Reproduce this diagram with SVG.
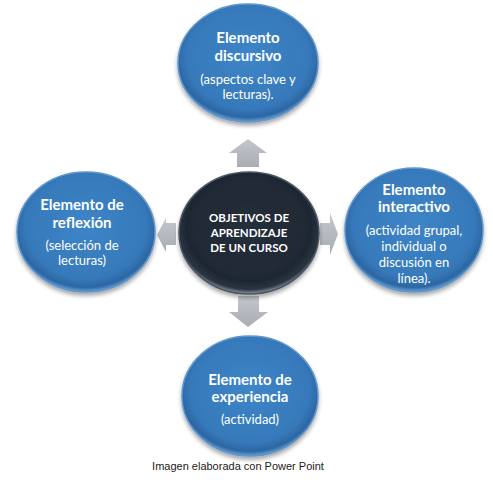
<svg xmlns="http://www.w3.org/2000/svg" width="493" height="480" viewBox="0 0 493 480">
<defs>
<radialGradient id="gb" cx="50%" cy="45%" r="55%">
<stop offset="0" stop-color="#3d85c7"/>
<stop offset="0.8" stop-color="#3679ba"/>
<stop offset="0.93" stop-color="#2c66a3"/>
<stop offset="1" stop-color="#6da2d4"/>
</radialGradient>
<radialGradient id="gd" cx="50%" cy="45%" r="55%">
<stop offset="0" stop-color="#252f3b"/>
<stop offset="0.82" stop-color="#1f2833"/>
<stop offset="0.93" stop-color="#2a3440"/>
<stop offset="1" stop-color="#8e98a3"/>
</radialGradient>
<linearGradient id="ga" x1="0" y1="0" x2="0" y2="1">
<stop offset="0" stop-color="#c3c6cb"/>
<stop offset="1" stop-color="#a9adb3"/>
</linearGradient>
<filter id="sh" x="-20%" y="-20%" width="140%" height="150%">
<feGaussianBlur in="SourceAlpha" stdDeviation="2"/>
<feOffset dy="3"/>
<feComponentTransfer><feFuncA type="linear" slope="0.35"/></feComponentTransfer>
<feMerge><feMergeNode/><feMergeNode in="SourceGraphic"/></feMerge>
</filter>
</defs>
<style>
.blue{fill:url(#gb);stroke:#5f97cc;stroke-width:1.5}
.dark{fill:url(#gd);stroke:#4a5563;stroke-width:1.5}
.t{font-family:Lato,"Open Sans",sans-serif;font-weight:bold;font-size:15px;fill:#ffffff;text-anchor:middle}
.s{font-family:Lato,"Open Sans",sans-serif;font-size:13px;fill:#ffffff;text-anchor:middle}
.c{font-family:Lato,"Open Sans",sans-serif;font-weight:bold;font-size:11.5px;fill:#ffffff;text-anchor:middle}
.arr{fill:url(#ga)}
.cap{font-family:"Liberation Sans",Arial,sans-serif;font-size:11px;fill:#222222;text-anchor:middle}
</style>
<g id="connectors">
<polygon class="arr" points="248,139 267,153 259,153 259,167 237,167 237,153 229,153"/>
<polygon class="arr" points="238,296 259,296 259,312 268,312 248,327 229,312 238,312"/>
<polygon class="arr" points="157,235 166,218 166,223 176,223 176,245 166,245 166,252"/>
<polygon class="arr" points="338,234 330,213 330,223 320,223 320,245 330,245 330,255"/>
</g>
<g id="center">
<ellipse class="dark" cx="249" cy="233" rx="70" ry="61" filter="url(#sh)"/>
<text class="c" x="249" y="222">OBJETIVOS DE</text>
<text class="c" x="249" y="237">APRENDIZAJE</text>
<text class="c" x="249" y="252">DE UN CURSO</text>
</g>
<g id="top">
<ellipse class="blue" cx="248" cy="63" rx="70" ry="59" filter="url(#sh)"/>
<text class="t" x="248" y="43">Elemento</text>
<text class="t" x="248" y="61">discursivo</text>
<text class="s" x="248" y="84">(aspectos clave y</text>
<text class="s" x="248" y="99">lecturas).</text>
</g>
<g id="left">
<ellipse class="blue" cx="86" cy="232" rx="69" ry="60" filter="url(#sh)"/>
<text class="t" x="82" y="210">Elemento de</text>
<text class="t" x="82" y="228">reflexión</text>
<text class="s" x="82" y="250">(selección de</text>
<text class="s" x="82" y="265">lecturas)</text>
</g>
<g id="right">
<ellipse class="blue" cx="414" cy="230" rx="69" ry="62" filter="url(#sh)"/>
<text class="t" x="414" y="195">Elemento</text>
<text class="t" x="414" y="212">interactivo</text>
<text class="s" x="414" y="235">(actividad grupal,</text>
<text class="s" x="414" y="251">individual o</text>
<text class="s" x="414" y="267">discusión en</text>
<text class="s" x="414" y="283">línea).</text>
</g>
<g id="bottom">
<ellipse class="blue" cx="250" cy="396" rx="68" ry="60" filter="url(#sh)"/>
<text class="t" x="250" y="385">Elemento de</text>
<text class="t" x="250" y="402">experiencia</text>
<text class="s" x="250" y="424">(actividad)</text>
</g>
<text class="cap" x="238" y="470">Imagen elaborada con Power Point</text>
</svg>
